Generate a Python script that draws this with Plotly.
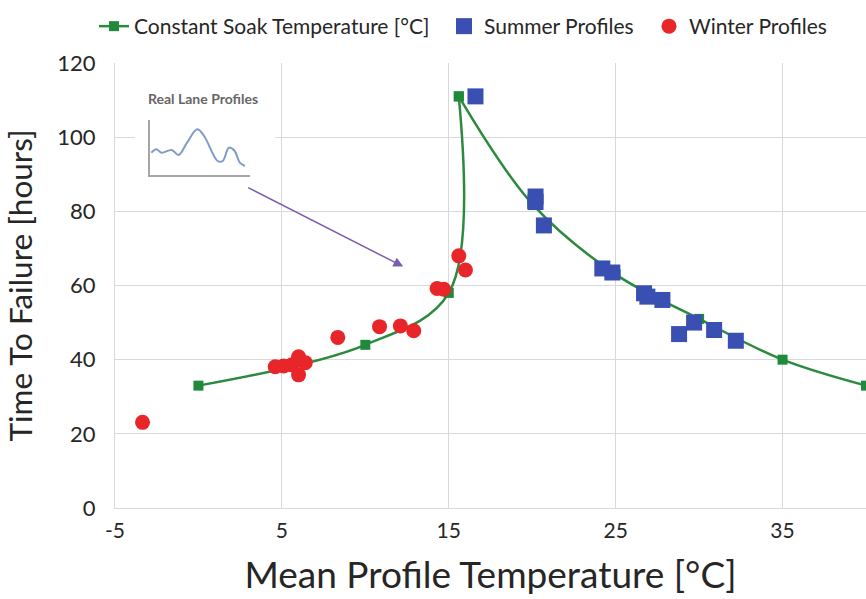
import plotly.graph_objects as go

# ---------------- data ----------------
soak_x = [0, 10, 15, 15.6, 20, 25, 30, 35, 40]
soak_y = [33, 44, 58, 111, 82, 63, 51, 40, 33]
PEAK = 3  # index of the peak soak point (curve is smoothed on each side of it)

summer_x = [16.6, 20.2, 20.2, 20.7, 24.2, 24.8, 26.7, 26.9, 27.8, 28.8, 29.7, 30.9, 32.2]
summer_y = [111, 84, 82.5, 76.2, 64.6, 63.5, 57.9, 57.0, 56.1, 46.9, 50.0, 48.0, 45.1]

winter_x = [-3.35, 4.6, 5.1, 5.6, 6.0, 6.0, 6.4, 8.35, 10.85, 12.1, 12.9, 14.3, 14.7, 15.6, 16.0]
winter_y = [23.1, 38.1, 38.3, 38.6, 40.8, 35.9, 39.2, 46.0, 48.9, 49.1, 47.8, 59.2, 59.0, 68.0, 64.2]

inset_x = [1.3, 6.3, 11.3, 21.3, 28, 36.3, 46.3, 53, 66.3, 71.3, 77.3, 83, 88, 93]
inset_y = [22.3, 25.7, 22.3, 25, 20, 32.3, 45.7, 39, 14, 14, 27.3, 24, 12.3, 9]

x_ticks = [-5, 5, 15, 25, 35]
x_tick_labels = ["-5", "5", "15", "25", "35"]
y_ticks = [0, 20, 40, 60, 80, 100, 120]

FONT = "Lato"
TXT = "#262626"
W, H = 866, 599
# plot area in window pixels
PL, PR, PT, PB = 115, 866, 63, 508
L, R, T, B = PL, W - PR, PT, H - PB

GREEN_LINE = "#2b8a3e"
GREEN_MK = "#1f8a3b"

fig = go.Figure()

fig.add_trace(go.Scatter(
    x=soak_x[:PEAK + 1], y=soak_y[:PEAK + 1], mode="lines+markers",
    name="Constant Soak Temperature [°C]",
    line=dict(color=GREEN_LINE, width=2.5, shape="spline", smoothing=1.0),
    marker=dict(symbol="square", size=10, color=GREEN_MK),
    legend="legend",
))
fig.add_trace(go.Scatter(
    x=soak_x[PEAK:], y=soak_y[PEAK:], mode="lines+markers",
    name="Constant Soak Temperature [°C]", showlegend=False,
    line=dict(color=GREEN_LINE, width=2.5, shape="spline", smoothing=1.0),
    marker=dict(symbol="square", size=10, color=GREEN_MK),
))
fig.add_trace(go.Scatter(
    x=summer_x, y=summer_y, mode="markers", name="Summer Profiles",
    marker=dict(symbol="square", size=16, color="#3a4fb2"),
    legend="legend2",
))
fig.add_trace(go.Scatter(
    x=winter_x, y=winter_y, mode="markers", name="Winter Profiles",
    marker=dict(symbol="circle", size=15, color="#e8262a"),
    legend="legend3",
))

# inset "Real Lane Profiles"
fig.add_trace(go.Scatter(
    x=inset_x, y=inset_y, mode="lines", showlegend=False, hoverinfo="skip",
    line=dict(color="#7f9cc8", width=2, shape="spline", smoothing=1.0),
    xaxis="x2", yaxis="y2",
))

fig.add_shape(type="rect", xref="x", yref="y", x0=-3.8, x1=4.6, y0=85, y1=116,
              fillcolor="white", line=dict(width=0), layer="between")

fig.add_annotation(text="<b>Real Lane Profiles</b>", xref="x", yref="y", x=0.3, y=110.5,
                   showarrow=False, font=dict(family=FONT, size=14, color="#666666"))

fig.add_annotation(x=12.27, y=65.1, ax=2.89, ay=86.6, xref="x", yref="y", axref="x", ayref="y",
                   showarrow=True, arrowhead=2, arrowsize=1.3, arrowwidth=1.5,
                   arrowcolor="#7a5cb0", text="")

pw = PR - PL
ph = PB - PT
legend_common = dict(orientation="h", xref="container", yref="container", y=1 - 26.5 / H,
                     xanchor="left", yanchor="middle", font=dict(size=21, family=FONT, color=TXT),
                     bgcolor="rgba(0,0,0,0)")
fig.update_layout(
    width=W, height=H,
    margin=dict(l=L, r=R, t=T, b=B, autoexpand=False),
    paper_bgcolor="white", plot_bgcolor="white",
    font=dict(family=FONT, color=TXT),
    xaxis=dict(range=[-5, 40], tickvals=x_ticks, ticktext=x_tick_labels, showgrid=True,
               gridcolor="#d9d9d9", gridwidth=1, automargin=False,
               zeroline=False, showline=True, linecolor="#d9d9d9", linewidth=1,
               tickfont=dict(size=21, family=FONT, color=TXT), ticklabelstandoff=4,
               title=dict(text="Mean Profile Temperature [°C]", font=dict(size=37, family=FONT, color=TXT),
                          standoff=20),
               ticks="", fixedrange=True),
    yaxis=dict(range=[0, 120], tickvals=y_ticks, showgrid=True, gridcolor="#d9d9d9", gridwidth=1,
               zeroline=False, showline=True, linecolor="#d9d9d9", linewidth=1, automargin=False,
               tickfont=dict(size=22, family=FONT, color=TXT), ticklabelstandoff=14,
               title=dict(text="Time To Failure [hours]", font=dict(size=31.5, family=FONT, color=TXT),
                          standoff=15),
               ticks="", fixedrange=True),
    xaxis2=dict(domain=[(150 - PL) / pw, (250 - PL) / pw], anchor="y2", range=[0, 98],
                showgrid=False, zeroline=False, showticklabels=False, showline=True,
                linecolor="#a6a6a6", linewidth=2, fixedrange=True),
    yaxis2=dict(domain=[(PB - 175) / ph, (PB - 120) / ph], anchor="x2", range=[0, 55],
                showgrid=False, zeroline=False, showticklabels=False, showline=True,
                linecolor="#a6a6a6", linewidth=2, fixedrange=True),
    legend=dict(x=94 / W, **legend_common),
    legend2=dict(x=444 / W, **legend_common),
    legend3=dict(x=649 / W, **legend_common),
)

fig.write_html("out.html", config={"displayModeBar": False},
               post_script="document.body.style.margin='0';document.body.style.overflow='hidden';")
